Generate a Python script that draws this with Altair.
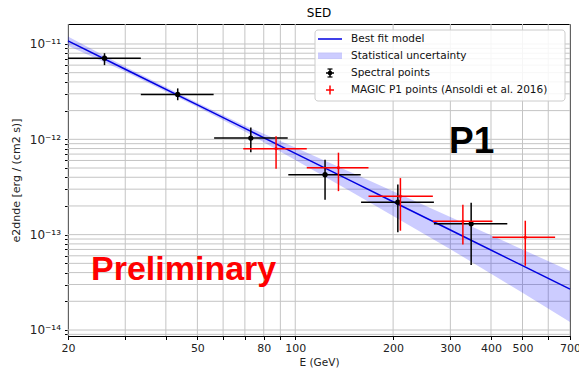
import altair as alt
import pandas as pd

# ---------------- data ----------------
# Best-fit model (power law) and statistical uncertainty band
model_E = [20, 30, 50, 70, 100, 150, 200, 300, 500, 700]
model_F = [1.076e-11, 5.43e-12, 2.30e-12, 1.30e-12, 7.13e-13, 3.60e-13,
           2.215e-13, 1.118e-13, 4.73e-14, 2.68e-14]
band_lo = [9.60e-12, 5.10e-12, 2.185e-12, 1.209e-12, 6.06e-13, 2.77e-13,
           1.57e-13, 7.04e-14, 2.46e-14, 1.21e-14]
band_hi = [1.195e-11, 5.76e-12, 2.415e-12, 1.391e-12, 8.20e-13, 4.43e-13,
           2.86e-13, 1.53e-13, 7.0e-14, 4.15e-14]

# Spectral points (black)
sp_E = [25.9, 43.5, 73.0, 123.5, 206.8, 347.6]
sp_F = [7.1e-12, 2.96e-12, 1.03e-12, 4.25e-13, 2.19e-13, 1.30e-13]
sp_Elo = [20.0, 33.5, 56.3, 95.2, 159.4, 267.0]
sp_Ehi = [33.5, 56.1, 94.8, 159.0, 267.0, 449.0]
sp_Flo = [6.0e-12, 2.57e-12, 7.3e-13, 2.32e-13, 1.06e-13, 4.8e-14]
sp_Fhi = [8.0e-12, 3.42e-12, 1.33e-12, 6.1e-13, 3.36e-13, 2.16e-13]

# MAGIC P1 points (red)
mg_E = [87.3, 135.8, 210.6, 327.8, 510.0]
mg_F = [7.98e-13, 5.04e-13, 2.53e-13, 1.38e-13, 9.37e-14]
mg_Elo = [69.2, 108.5, 168.0, 265.0, 404.0]
mg_Ehi = [108.5, 168.0, 265.0, 404.0, 630.0]
mg_Flo = [4.9e-13, 2.86e-13, 1.10e-13, 7.9e-14, 4.72e-14]
mg_Fhi = [1.08e-12, 7.24e-13, 3.92e-13, 2.06e-13, 1.40e-13]

# axis ticks / labels
x_ticks = [20, 30, 40, 50, 60, 70, 80, 90, 100, 200, 300, 400, 500, 600, 700]
x_labels = [20, 50, 80, 100, 200, 300, 400, 500, 700]
y_ticks = [float(f"{k}e{d}") for d in (-15, -14, -13, -12) for k in range(1, 10)] + [1e-11]
y_ticks = [v for v in y_ticks if v >= 8.6e-15]

legend_labels = ["Best fit model", "Statistical uncertainty", "Spectral points",
                 "MAGIC P1 points (Ansoldi et al. 2016)"]

model_df = pd.DataFrame({"E": model_E, "F": model_F, "lo": band_lo, "hi": band_hi})
sp_df = pd.DataFrame({"E": sp_E, "F": sp_F, "Elo": sp_Elo, "Ehi": sp_Ehi,
                      "Flo": sp_Flo, "Fhi": sp_Fhi})
mg_df = pd.DataFrame({"E": mg_E, "F": mg_F, "Elo": mg_Elo, "Ehi": mg_Ehi,
                      "Flo": mg_Flo, "Fhi": mg_Fhi})
xg_df = pd.DataFrame({"E": x_ticks})
yg_df = pd.DataFrame({"F": y_ticks})
one = pd.DataFrame({"a": [0]})

FONT = "DejaVu Sans"
GRID = "#c4c4c4"
xscale = alt.Scale(type="log", domain=[20, 700], nice=False)
yscale = alt.Scale(type="log", domain=[8.65e-15, 1.62e-11], nice=False)

xaxis = alt.Axis(
    values=x_ticks,
    labelExpr="indexof(" + str(x_labels) + ", datum.value) >= 0 ? '' + datum.value : ''",
    title="E (GeV)", grid=False, tickSize=3.5, labelPadding=3, titlePadding=4,
    labelFlush=False, labelOverlap=False, labelBound=False, labelFontSize=11,
)
yaxis = alt.Axis(
    values=y_ticks,
    labelExpr=("datum.value == 1e-11 ? '10⁻¹¹' : datum.value == 1e-12 ? '10⁻¹²' : "
               "datum.value == 1e-13 ? '10⁻¹³' : datum.value == 1e-14 ? '10⁻¹⁴' : ''"),
    title="e2dnde [erg / (cm2 s)]", grid=False, tickSize=3.5, labelPadding=4,
    labelOverlap=False, labelFlush=False, labelBound=False, labelFontSize=12,
    titleX=-52, titleY=156, titleAngle=270, titleAlign="center", titleBaseline="middle",
    titleFontSize=11,
)

def X(field):
    return alt.X(field, type="quantitative", scale=xscale, axis=xaxis)

def Y(field):
    return alt.Y(field, type="quantitative", scale=yscale, axis=yaxis)

# grid lines (drawn as rules at the tick positions)
xgrid = alt.Chart(xg_df).mark_rule(color=GRID, strokeWidth=1).encode(x=X("E"))
ygrid = alt.Chart(yg_df).mark_rule(color=GRID, strokeWidth=1).encode(y=Y("F"))

band = alt.Chart(model_df).mark_area(color="#0000ff", opacity=0.2).encode(
    x=X("E"), y=Y("lo"), y2="hi")
line = alt.Chart(model_df).mark_line(color="#0000e0", strokeWidth=1.5).encode(
    x=X("E"), y=Y("F"))

sp_h = alt.Chart(sp_df).mark_rule(color="black", strokeWidth=1.5).encode(
    x=X("Elo"), x2="Ehi", y=Y("F"))
sp_v = alt.Chart(sp_df).mark_rule(color="black", strokeWidth=1.5).encode(
    x=X("E"), y=Y("Flo"), y2="Fhi")
sp_p = alt.Chart(sp_df).mark_circle(color="black", size=28, opacity=1).encode(
    x=X("E"), y=Y("F"))

RED = "#ff0000"
mg_h = alt.Chart(mg_df).mark_rule(color=RED, strokeWidth=1.5).encode(
    x=X("Elo"), x2="Ehi", y=Y("F"))
mg_v = alt.Chart(mg_df).mark_rule(color=RED, strokeWidth=1.5).encode(
    x=X("E"), y=Y("Flo"), y2="Fhi")
mg_p = alt.Chart(mg_df).mark_circle(color=RED, size=10, opacity=1).encode(
    x=X("E"), y=Y("F"))

# annotations
prelim = alt.Chart(one).mark_text(
    text="Preliminary", color="#ff0000", font="Liberation Sans", fontWeight="bold",
    fontSize=34, align="left", baseline="alphabetic").encode(
    x=alt.value(23), y=alt.value(256))
p1 = alt.Chart(one).mark_text(
    text="P1", color="black", font="Liberation Sans", fontWeight="bold",
    fontSize=37, align="left", baseline="alphabetic").encode(
    x=alt.value(381), y=alt.value(129))
title = alt.Chart(one).mark_text(
    text="SED", color="black", font=FONT, fontSize=12, align="center",
    baseline="middle").encode(x=alt.value(251), y=alt.value(-11))

# legend (drawn manually)
leg_box = alt.Chart(one).mark_rect(
    fill="white", fillOpacity=0.85, stroke="#cccccc", strokeWidth=1,
    cornerRadius=3).encode(
    x=alt.value(247), x2=alt.value(497), y=alt.value(6), y2=alt.value(77))
leg_line = alt.Chart(one).mark_rule(color="#0000e0", strokeWidth=1.5).encode(
    x=alt.value(250), x2=alt.value(274), y=alt.value(15))
leg_band = alt.Chart(one).mark_rect(color="#0000ff", opacity=0.2).encode(
    x=alt.value(250), x2=alt.value(274), y=alt.value(28.5), y2=alt.value(35))
leg_sp_h = alt.Chart(one).mark_rule(color="black", strokeWidth=1.5).encode(
    x=alt.value(258), x2=alt.value(266), y=alt.value(49))
leg_sp_v = alt.Chart(one).mark_rule(color="black", strokeWidth=1.5).encode(
    x=alt.value(262), y=alt.value(45), y2=alt.value(53))
leg_sp_c1 = alt.Chart(one).mark_rule(color="black", strokeWidth=1.2).encode(
    x=alt.value(259.5), x2=alt.value(264.5), y=alt.value(45))
leg_sp_c2 = alt.Chart(one).mark_rule(color="black", strokeWidth=1.2).encode(
    x=alt.value(259.5), x2=alt.value(264.5), y=alt.value(53))
leg_sp_p = alt.Chart(one).mark_circle(color="black", size=22, opacity=1).encode(
    x=alt.value(262), y=alt.value(49))
leg_mg_h = alt.Chart(one).mark_rule(color=RED, strokeWidth=1.5).encode(
    x=alt.value(258), x2=alt.value(266), y=alt.value(66))
leg_mg_v = alt.Chart(one).mark_rule(color=RED, strokeWidth=1.5).encode(
    x=alt.value(262), y=alt.value(61.5), y2=alt.value(70.5))

leg_rows_y = [15, 32, 49, 66]
leg_texts = [
    alt.Chart(one).mark_text(
        text=lab, font=FONT, fontSize=10.5, align="left", baseline="middle",
        color="#111").encode(x=alt.value(283), y=alt.value(yy))
    for lab, yy in zip(legend_labels, leg_rows_y)
]

chart = alt.layer(
    xgrid, ygrid,
    band, line, sp_h, sp_v, sp_p, mg_h, mg_v, mg_p,
    prelim, p1, title,
    leg_box, leg_line, leg_band, leg_sp_h, leg_sp_v, leg_sp_c1, leg_sp_c2, leg_sp_p,
    leg_mg_h, leg_mg_v, *leg_texts,
).properties(
    width=502, height=312,
    autosize=alt.AutoSizeParams(type="none"),
    padding={"left": 68, "top": 24, "right": 9, "bottom": 37},
).configure_view(
    stroke="black", strokeWidth=1,
).configure_axis(
    domainColor="black", tickColor="black", labelColor="#222", titleColor="#222",
    labelFont=FONT, titleFont=FONT,
    labelFontSize=10.5, titleFontSize=10.5, titleFontWeight="normal",
)

chart.save("out.html", embed_options={"renderer": "svg", "actions": False})
